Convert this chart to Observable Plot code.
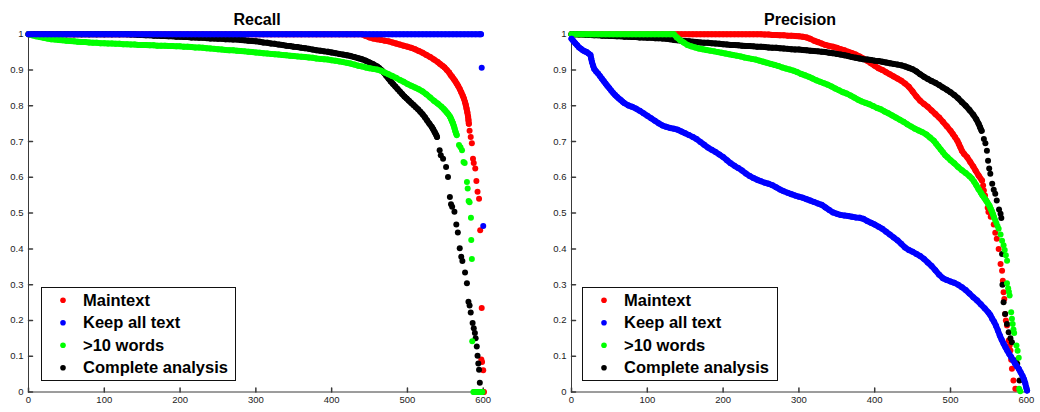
<!DOCTYPE html>
<html><head><meta charset="utf-8">
<script src="https://cdn.jsdelivr.net/npm/d3@7"></script>
<script src="https://cdn.jsdelivr.net/npm/@observablehq/plot@0.6"></script>
<style>
body{margin:0;background:#fff;}
#wrap{width:1040px;height:412px;display:flex;}
#wrap svg{display:block;flex:none;}
</style></head>
<body><div id="wrap"></div>
<script>
// ---- categories, ticks ----
const seriesNames = ["Maintext", "Keep all text", ">10 words", "Complete analysis"];
const seriesColors = ["#ff0000", "#0000ff", "#00ff00", "#000000"];
const xTicks = [0, 100, 200, 300, 400, 500, 600];
const yTicks = [0, 0.1, 0.2, 0.3, 0.4, 0.5, 0.6, 0.7, 0.8, 0.9, 1];
const panelTitles = ["Recall", "Precision"];

// ---- Recall series ([document rank, value]) ----
const recallMaintext = [[0,1],[10,1],[20,1],[30,1],[40,1],[50,1],[60,1],[70,1],[80,1],[90,1],[100,1],[110,1],[120,1],[130,1],[140,1],[150,1],[160,1],[170,1],[180,1],[190,1],[200,1],[210,1],[220,1],[230,1],[240,1],[250,1],[260,1],[270,1],[280,1],[290,1],[300,1],[310,1],[320,1],[330,1],[340,1],[350,1],[360,1],[370,1],[380,1],[390,1],[400,1],[410,1],[420,1],[430,1],[440,1],
[445,.995],[450,.991],[455,.988],[460,.986],[465,.984],[470,.982],[475,.98],[480,.977],[485,.974],[490,.971],[495,.968],[500,.965],[505,.962],[510,.958],[515,.953],[520,.948],[525,.942],[530,.936],[535,.929],[540,.922],[543,.917],[546,.912],[549,.907],[552,.9],[555,.893],[557,.886],[559,.881],[561,.875],[563,.869],[565,.862],[567,.855],[569,.847],[571,.838],[573,.828],[574.5,.82],[576,.81],[577,.802],[578,.792],[579,.782],[580,.77],[580.5,.76],[581,.75],
[582,.73],[583.5,.713],[585,.695],[586.5,.652],[587.5,.64],[589.5,.625],[591,.59],[592.5,.56],[594.5,.54],[596,.452],[598,.235],[597.5,.091],[598.5,.084],[600,.061],[599,0],[600,0],[601,0]];

const recallKeepAll = [[0,1],[5,1],[10,1],[15,1],[20,1],[25,1],[30,1],[35,1],[40,1],[45,1],[50,1],[55,1],[60,1],[65,1],[70,1],[75,1],[80,1],[85,1],[90,1],[95,1],[100,1],[105,1],[110,1],[115,1],[120,1],[125,1],[130,1],[135,1],[140,1],[145,1],[150,1],[155,1],[160,1],[165,1],[170,1],[175,1],[180,1],[185,1],[190,1],[195,1],[200,1],[205,1],[210,1],[215,1],[220,1],[225,1],[230,1],[235,1],[240,1],[245,1],[250,1],[255,1],[260,1],[265,1],[270,1],[275,1],[280,1],[285,1],[290,1],[295,1],[300,1],[305,1],[310,1],[315,1],[320,1],[325,1],[330,1],[335,1],[340,1],[345,1],[350,1],[355,1],[360,1],[365,1],[370,1],[375,1],[380,1],[385,1],[390,1],[395,1],[400,1],[405,1],[410,1],[415,1],[420,1],[425,1],[430,1],[435,1],[440,1],[445,1],[450,1],[455,1],[460,1],[465,1],[470,1],[475,1],[480,1],[485,1],[490,1],[495,1],[500,1],[505,1],[510,1],[515,1],[520,1],[525,1],[530,1],[535,1],[540,1],[545,1],[550,1],[555,1],[560,1],[565,1],[570,1],[575,1],[580,1],[585,1],[590,1],[595,1],[597,1],[598,.906],[600,.464]];

const recallWords = [[0,1],[5,.997],[10,.994],[15,.992],[20,.99],[25,.988],[30,.986],[35,.985],[40,.984],[45,.983],[50,.982],[55,.981],[60,.98],[65,.979],[70,.978],[75,.978],[80,.977],[85,.976],[90,.976],[95,.975],[100,.975],[105,.974],[110,.974],[115,.973],[120,.973],[125,.972],[130,.972],[135,.971],[140,.971],[145,.97],[150,.97],[155,.97],[160,.969],[165,.969],[170,.968],[175,.968],[180,.968],[185,.967],[190,.967],[195,.966],[200,.966],[205,.965],[210,.965],[215,.964],[220,.963],[225,.963],[230,.962],[235,.961],[240,.96],[245,.959],[250,.958],[255,.957],[260,.956],[265,.955],[270,.955],[275,.954],[280,.953],[285,.952],[290,.951],[295,.95],[300,.949],[305,.948],[310,.947],[315,.946],[320,.945],[325,.944],[330,.943],[335,.942],[340,.941],[345,.94],[350,.939],[355,.938],[360,.937],[365,.936],[370,.935],[375,.934],[380,.932],[385,.931],[390,.93],[395,.929],[400,.927],[405,.926],[410,.924],[415,.922],[420,.92],[425,.918],[430,.915],[435,.912],[440,.91],[445,.907],[450,.905],[455,.903],[460,.901],[465,.898],[470,.893],[475,.888],[480,.883],[485,.878],[490,.872],[495,.867],[500,.861],[505,.856],[510,.851],[515,.846],[520,.84],[525,.832],[530,.823],[535,.814],[540,.806],[545,.797],[548,.791],[550,.786],[552,.781],[554,.776],[556,.77],[557,.766],[558,.761],[559,.756],[560,.751],[561,.745],[562,.738],[563,.73],[564,.724],[565,.718],
[568,.69],[570,.684],[572,.676],[574,.643],[575.5,.64],[578.5,.587],[579.5,.569],[580.7,.534],[582,.53],[583.8,.487],[584.2,.425],[585,.372],[585.5,.142],
[587,0],[588,0],[589,0],[590,0],[591,0],[592,0],[593,0],[594,0],[595,0],[596,0],[597,0],[598,0],[599,0]];

const recallComplete = [[0,1],[10,1],[20,1],[30,1],[40,1],[50,1],[60,1],[70,1],[80,1],[90,1],[100,1],[110,1],[120,1],[130,1],
[135,.999],[140,.999],[145,.998],[150,.998],[155,.997],[160,.997],[165,.996],[170,.996],[175,.995],[180,.995],[185,.994],[190,.994],[195,.993],[200,.993],[205,.992],[210,.992],[215,.991],[220,.991],[225,.99],[230,.99],[235,.989],[240,.988],[245,.988],[250,.987],[255,.987],[260,.986],[265,.986],[270,.985],[275,.985],[280,.984],[285,.983],[290,.982],[295,.981],[300,.98],[305,.979],[310,.977],[315,.976],[320,.974],[325,.973],[330,.971],[335,.97],[340,.968],[345,.967],[350,.965],[355,.964],[360,.962],[365,.961],[370,.959],[375,.957],[380,.955],[385,.954],[390,.952],[395,.951],[400,.949],[405,.947],[410,.945],[415,.943],[420,.941],[425,.939],[430,.936],[435,.933],[440,.93],[445,.926],[450,.921],[455,.916],[460,.91],[463,.905],[466,.899],[469,.892],[472,.884],[475,.876],[478,.868],[481,.861],[484,.854],[487,.847],[490,.84],[493,.833],[496,.826],[499,.82],[502,.814],[505,.808],[508,.802],[511,.796],[514,.79],[517,.783],[520,.776],[523,.768],[526,.759],[529,.75],[532,.741],[534,.734],[536,.726],[538,.718],[539,.713],
[542.5,.676],[544,.662],[547,.652],[551,.629],[553.5,.601],[556,.545],[557.5,.525],[559,.518],[562,.504],[564.5,.468],[566.5,.446],[569,.402],[571,.378],[572.5,.366],[576,.334],[578.5,.304],[580.5,.252],[582,.242],[583.5,.222],[586,.193],[587.5,.178],[589,.165],[590,.15],[591.5,.127],[592.5,.101],[593.5,.08],[594.5,.062],[595.5,.026],[596,0],[597,0],[598,0]];

// ---- Precision series ----
const precisionMaintext = [[0,1],[10,1],[20,1],[30,1],[40,1],[50,1],[60,1],[70,1],[80,1],[90,1],[100,1],[110,1],[120,1],[130,1],[135,1],[140,1],[145,1],[150,1],[155,1],[160,1],[165,1],[170,1],[175,1],[180,1],[185,1],[190,1],[195,1],[200,1],[205,1],[210,1],[215,1],[220,1],[225,1],[230,1],[235,1],[240,1],[245,1],[250,1],
[255,.999],[260,.999],[265,.998],[270,.998],[275,.997],[280,.997],[285,.996],[290,.996],[295,.995],[300,.994],[305,.993],[310,.991],[315,.987],[320,.982],[325,.978],[330,.974],[335,.97],[340,.967],[345,.965],[350,.962],[355,.958],[360,.955],[365,.951],[370,.947],[375,.943],[380,.938],[385,.932],[390,.926],[395,.919],[400,.912],[405,.905],[410,.9],[415,.894],[420,.888],[425,.882],[430,.876],[435,.87],[440,.862],[445,.853],[450,.84],[455,.826],[460,.814],[465,.805],[470,.797],[475,.787],[480,.777],[485,.767],[490,.755],[495,.743],[500,.73],[503,.721],[506,.712],[509,.702],[511,.693],[513,.684],[515,.674],[518,.665],[522,.656],[526,.643],[530,.63],[533,.619],[537,.605],[541.5,.591],[543,.577],[544,.563],[545.5,.549],[547,.535],[549,.515],[550,.503],[553,.49],[557,.468],[559,.445],[561,.428],[563.5,.4],[566,.358],[568,.339],[569,.311],[570,.279],[571,.26],[572,.218],[573,.2],[574.5,.186],[576.7,.144],[578,.13],[579,.116],[580,.09],[581,.065],[583,.032],[585.5,.009]];

const precisionKeepAll = [[0,.987],[2.5,.981],[5,.975],[7.5,.969],[10,.963],[12.5,.959],[15,.955],[17.5,.952],[20,.95],[22.5,.946],[25,.942],[26,.932],[27,.922],[28.5,.912],[30,.903],[32.5,.896],[35,.89],[37.5,.883],[40,.876],[42.5,.869],[45,.862],[47.5,.855],[50,.849],[52.5,.842],[55,.836],[57.5,.83],[60,.825],[62.5,.82],[65,.816],[67.5,.811],[70,.807],[75,.801],[80,.797],[85,.792],[90,.786],[95,.779],[100,.772],[105,.765],[110,.758],[115,.751],[120,.745],[125,.741],[130,.738],[135,.736],[140,.733],[145,.728],[150,.723],[155,.718],[160,.713],[165,.707],[170,.699],[175,.691],[180,.683],[185,.677],[190,.671],[195,.664],[200,.657],[205,.648],[210,.639],[215,.632],[220,.626],[225,.619],[230,.611],[235,.604],[240,.598],[245,.593],[250,.589],[255,.585],[260,.582],[265,.578],[270,.572],[275,.566],[280,.561],[285,.557],[290,.553],[295,.549],[300,.546],[305,.543],[310,.539],[315,.535],[320,.531],[325,.527],[330,.523],[335,.516],[340,.509],[345,.502],[350,.498],[355,.495],[360,.493],[365,.492],[370,.49],[375,.488],[380,.487],[385,.484],[390,.478],[395,.473],[400,.468],[405,.462],[410,.456],[415,.448],[420,.44],[425,.432],[430,.424],[435,.414],[440,.404],[445,.397],[450,.392],[455,.386],[460,.38],[465,.372],[470,.362],[475,.352],[480,.34],[485,.328],[490,.318],[495,.313],[500,.309],[505,.305],[510,.3],[515,.293],[520,.285],[525,.275],[530,.265],[535,.256],[540,.245],[545,.234],[550,.222],[552.5,.215],[555,.205],[557.5,.196],[560,.185],[562.5,.172],[565,.158],[567.5,.146],[570,.135],[572.5,.125],[575,.115],[577.5,.106],[580,.098],[582.5,.089],[585,.08],[587.5,.072],[590,.065],[592.5,.055],[595,.045],[597,.035],[598.5,.025],[600,.012],[601,.004]];

const precisionWords = [[0,1],[5,1],[10,1],[15,1],[20,1],[25,1],[30,1],[35,1],[40,1],[45,1],[50,1],[55,1],[60,1],[65,1],[70,1],[75,1],[80,1],[85,1],[90,1],[95,1],[100,1],[105,1],[110,1],[115,1],[120,1],[125,1],[130,1],[135,1],
[139,.991],[143,.984],[148,.977],[153,.97],[158,.966],[163,.963],[168,.96],[173,.958],[178,.956],[183,.954],[188,.952],[193,.95],[198,.948],[203,.946],[208,.944],[213,.942],[218,.94],[223,.938],[228,.935],[233,.933],[238,.931],[243,.929],[248,.926],[253,.923],[258,.92],[263,.917],[268,.914],[273,.911],[278,.907],[283,.904],[288,.901],[293,.898],[298,.894],[303,.889],[308,.885],[313,.881],[318,.876],[323,.871],[328,.867],[333,.863],[338,.859],[343,.854],[348,.848],[353,.843],[358,.838],[363,.834],[368,.829],[373,.823],[378,.817],[383,.812],[388,.808],[393,.804],[398,.799],[403,.794],[408,.79],[413,.784],[418,.779],[423,.773],[428,.767],[433,.761],[438,.755],[443,.748],[448,.742],[453,.736],[458,.731],[463,.726],[468,.72],[473,.711],[478,.702],[481,.694],[484,.686],[487,.678],[490,.67],[493,.662],[496,.656],[500,.648],[505,.639],[510,.629],[515,.62],[520,.612],[525,.603],[528,.597],[531,.588],[534,.578],[537,.567],[540,.557],[542,.55],[544,.544],[546,.538],[548,.532],[550,.525],[551.5,.52],[553,.512],[554.5,.505],[556,.497],[557.5,.488],[559,.48],[560.5,.472],[562,.464],[563.5,.456],[566,.44],[568,.423],[570,.41],[571.5,.397],[573,.382],[574.6,.367],
[574.5,.304],[576,.29],[577,.28],[578,.27],[580,.223],[581,.205],[582,.19],[583,.175],[584,.165],[587,.13],[588.5,.115],[590,.096],[590.5,.009],[592,.002]];

const precisionComplete = [[0,1],[5,1],[10,.999],[15,.999],[20,.998],[25,.998],[30,.997],[35,.997],[40,.996],[45,.996],[50,.995],[55,.995],[60,.994],[65,.994],[70,.993],[75,.993],[80,.992],[85,.992],[90,.991],[95,.991],[100,.99],[105,.99],[110,.989],[115,.989],[120,.988],[125,.987],[130,.986],[135,.984],[140,.983],[145,.982],[150,.981],[155,.98],[160,.979],[165,.978],[170,.977],[175,.976],[180,.976],[185,.975],[190,.974],[195,.973],[200,.972],[205,.971],[210,.97],[215,.97],[220,.969],[225,.968],[230,.967],[235,.967],[240,.966],[245,.965],[250,.965],[255,.964],[260,.963],[265,.962],[270,.962],[275,.961],[280,.96],[285,.959],[290,.958],[295,.957],[300,.957],[305,.956],[310,.955],[315,.954],[320,.953],[325,.952],[330,.951],[335,.95],[340,.948],[345,.947],[350,.945],[355,.943],[360,.941],[365,.939],[370,.936],[375,.934],[380,.932],[385,.93],[390,.929],[395,.928],[400,.926],[405,.925],[410,.923],[415,.921],[420,.919],[425,.917],[430,.915],[435,.913],[440,.91],[445,.906],[450,.902],[455,.896],[460,.888],[465,.881],[470,.875],[475,.869],[480,.864],[485,.858],[490,.851],[495,.845],[500,.838],[505,.83],[510,.821],[515,.81],[520,.8],[525,.788],[530,.775],[534,.762],[537,.75],[539,.74],[541,.73],
[544,.707],[546,.695],[548,.674],[549.5,.646],[551,.625],[552.5,.61],[555,.582],[557,.565],[559,.554],[561,.535],[564,.51],[566,.498],[567,.486],[568,.386],[568.5,.3],[570,.251],[572,.218],[574.5,.19],[576.7,.167],[579,.15],[581,.139],[586,.088],[588,.079],[591,.032]];

const recallSeries = [recallMaintext, recallKeepAll, recallWords, recallComplete];
const precisionSeries = [precisionMaintext, precisionKeepAll, precisionWords, precisionComplete];
// last rank of each series where its markers still merge into one continuous band
const recallBandEnd = [581, 597, 565, 539];
const precisionBandEnd = [541.5, 601, 557.5, 541];

// ---- drawing ----
const axisColor = "#3a3a3a";
const labelColor = "#222";
const font = "'Liberation Sans', Arial, Helvetica, sans-serif";
const drawOrder = [0, 3, 2, 1]; // red, black, green, then blue on top
const tickShape = {draw(ctx, l) { ctx.moveTo(0, 0); ctx.lineTo(0, -l); }};
const markerR = 3;

function makePanel(title, series, bandEnd, marginLeft, marginRight, legendX, legendW) {
  const dataMarks = drawOrder.flatMap(i => [
    Plot.line(series[i].filter(d => d[0] <= bandEnd[i]), {x: d => d[0], y: d => d[1], stroke: seriesColors[i], strokeWidth: 2 * markerR, strokeLinecap: "round", strokeLinejoin: "round", curve: "linear"}),
    Plot.dot(series[i], {x: d => d[0], y: d => d[1], r: markerR, fill: seriesColors[i], stroke: "none"})
  ]);
  const svg = Plot.plot({
    width: 520, height: 412,
    marginLeft, marginRight, marginTop: 33.7, marginBottom: 20.5,
    style: {fontFamily: font, background: "#fff", overflow: "visible"},
    x: {domain: [0, 603]},
    y: {domain: [0, 1]},
    marks: [
      Plot.ruleY([0], {stroke: axisColor}),
      Plot.ruleX([0], {stroke: axisColor}),
      Plot.vector(xTicks, {x: d => d, y: 0, length: 4, rotate: 0, anchor: "start", shape: tickShape, stroke: axisColor}),
      Plot.vector(yTicks, {x: 0, y: d => d, length: 4, rotate: 90, anchor: "start", shape: tickShape, stroke: axisColor}),
      Plot.axisX(xTicks, {tickSize: 0, tickPadding: 4, fontSize: 9.5, fill: labelColor, label: null, tickFormat: d => String(d)}),
      Plot.axisY(yTicks, {tickSize: 0, tickPadding: 5, fontSize: 9.5, fill: labelColor, label: null, tickFormat: d => String(d)}),
      ...dataMarks,
      Plot.text([title], {frameAnchor: "top", dy: -9.7, lineAnchor: "bottom", fontSize: 16, fontWeight: "bold", fill: "#000"})
    ]
  });
  // legend box (inside the axes, lower left)
  const g = d3.select(svg).append("g").attr("text-anchor", "start");
  g.append("rect").attr("x", legendX + 0.5).attr("y", 287.5).attr("width", legendW).attr("height", 93)
    .attr("fill", "#fff").attr("stroke", "#111").attr("stroke-width", 1);
  seriesNames.forEach((name, i) => {
    g.append("circle").attr("cx", legendX + 22).attr("cy", 300.3 + i * 22.5).attr("r", 2.8).attr("fill", seriesColors[i]);
    g.append("text").attr("x", legendX + 42).attr("y", 306 + i * 22.45).attr("text-anchor", "start")
      .attr("font-family", font).attr("font-size", 16.5).attr("font-weight", "bold").attr("fill", "#000")
      .text(name);
  });
  return svg;
}

const wrap = document.getElementById("wrap");
wrap.appendChild(makePanel(panelTitles[0], recallSeries, recallBandEnd, 28, 35, 41, 194));
wrap.appendChild(makePanel(panelTitles[1], precisionSeries, precisionBandEnd, 51, 11.9, 62, 195));
</script>
</body></html>
